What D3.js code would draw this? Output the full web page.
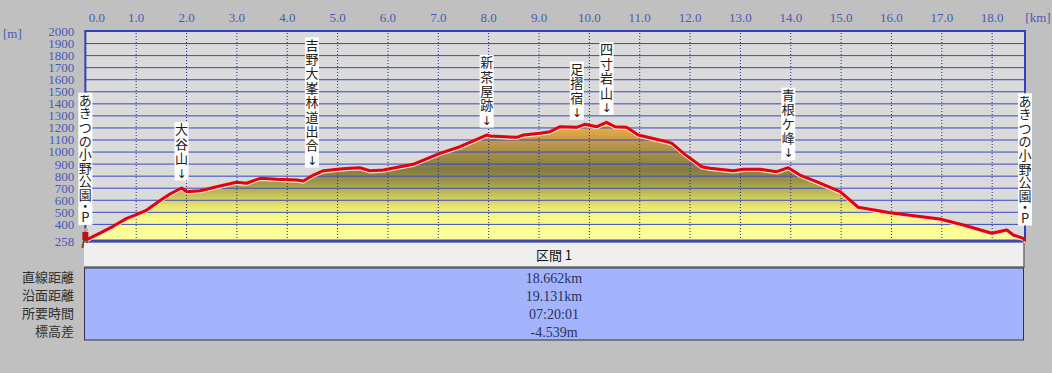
<!DOCTYPE html>
<html>
<head>
<meta charset="utf-8">
<script src="https://cdn.jsdelivr.net/npm/d3@7"></script>
<style>
  body { margin: 0; background: #c0c0c0; }
  svg { display: block; }
</style>
</head>
<body>
<div id="chart"></div>
<script>
var width = 1052,
  height = 373;

// profile: distance [km] and elevation [m]
var dist = [0, 0.29, 0.56, 0.82, 1.0, 1.22, 1.45, 1.68, 1.91, 2.01, 2.28, 2.61, 3.0, 3.2, 3.47,
  3.8, 4.2, 4.33, 4.53, 4.73, 5.06, 5.25, 5.45, 5.65, 5.92, 6.25, 6.51, 7.04, 7.44, 7.97,
  8.04, 8.57, 8.7, 9.03, 9.23, 9.43, 9.76, 9.92, 10.16, 10.35, 10.52, 10.75, 10.98, 11.55, 11.65,
  11.88, 12.24, 12.41, 12.87, 13.07, 13.4, 13.73, 13.96, 14.19, 14.52, 14.99, 15.35, 15.98, 16.97, 17.44,
  18.0, 18.3, 18.43, 18.63, 18.662];
var elev = [263, 324, 382, 446, 474, 515, 584, 648, 698, 667, 675, 708, 745, 737, 778,
  770, 764, 756, 805, 841, 855, 862, 866, 841, 847, 874, 894, 985, 1040, 1137,
  1129, 1118, 1137, 1151, 1165, 1206, 1201, 1226, 1206, 1242, 1206, 1201, 1137, 1082, 1068,
  985, 874, 861, 841, 853, 853, 833, 866, 805, 750, 667, 538, 493, 441, 391,
  322, 349, 308, 280, 258];

// waypoints
var pointNames = ["あきつの小野公園・P", "大谷山", "吉野大峯林道出合", "新茶屋跡", "足摺宿", "四寸岩山", "青根ケ峰", "あきつの小野公園・P"];
var pointKm = [0, 1.91, 4.5, 7.97, 9.76, 10.35, 13.96, 18.662];

var xTicks = d3.range(0, 19);
var yTicks = [258, 400, 500, 600, 700, 800, 900, 1000, 1100, 1200, 1300, 1400, 1500, 1600, 1700, 1800, 1900, 2000];

// summary table
var sectionName = "区間 1";
var rowNames = ["直線距離", "沿面距離", "所要時間", "標高差"];
var rowValues = ["18.662km", "19.131km", "07:20:01", "-4.539m"];

var pLeft = 85.35, pRight = 1025, pTop = 31, pBottom = 241;

var x = d3.scaleLinear().domain([0, 18.662]).range([pLeft, pRight]);
var y = d3.scaleLinear().domain([258, 2000]).range([pBottom, pTop]);

var svg = d3.select("#chart")
  .append("svg")
  .attr("width", width)
  .attr("height", height);

svg.append("rect")
  .attr("width", width)
  .attr("height", height)
  .attr("fill", "#c0c0c0");

// plot background
svg.append("rect")
  .attr("x", pLeft)
  .attr("y", pTop)
  .attr("width", pRight - pLeft)
  .attr("height", pBottom - pTop)
  .attr("fill", "#dadada");

// fill gradient, tied to elevation
var defs = svg.append("defs");
var grad = defs.append("linearGradient")
  .attr("id", "fillGrad")
  .attr("gradientUnits", "userSpaceOnUse")
  .attr("x1", 0).attr("x2", 0)
  .attr("y1", y(1250)).attr("y2", y(258));
var stops = [
  [1250, "#f4b448"], [1150, "#d8a448"], [1050, "#b8944a"], [950, "#9a8a48"],
  [850, "#847c44"], [750, "#9c9648"], [650, "#c2be58"], [550, "#e6e46e"],
  [450, "#fafa88"], [258, "#ffffa0"]
];
stops.forEach(function (s) {
  grad.append("stop")
    .attr("offset", (y(s[0]) - y(1250)) / (y(258) - y(1250)))
    .attr("stop-color", s[1]);
});

var profile = dist.map(function (d, i) { return [d, elev[i]]; });

var area = d3.area()
  .x(function (d) { return x(d[0]); })
  .y0(pBottom)
  .y1(function (d) { return y(d[1]); });

var line = d3.line()
  .x(function (d) { return x(d[0]); })
  .y(function (d) { return y(d[1]); });

svg.append("path")
  .datum(profile)
  .attr("d", area)
  .attr("fill", "url(#fillGrad)");

// horizontal grid
svg.append("g")
  .attr("transform", "translate(" + pLeft + ",0)")
  .call(d3.axisLeft(y).tickValues(d3.range(400, 2001, 100)).tickSize(-(pRight - pLeft)).tickFormat(""))
  .call(function (g) {
    g.select(".domain").remove();
    g.selectAll("line").attr("stroke", "#3a48c0").attr("stroke-width", 1);
  });

// vertical dotted grid
svg.append("g")
  .attr("transform", "translate(0," + pBottom + ")")
  .call(d3.axisBottom(x).tickValues(d3.range(1, 19)).tickSize(-(pBottom - pTop)).tickFormat(""))
  .call(function (g) {
    g.select(".domain").remove();
    g.selectAll("line").attr("stroke", "#1a2a80").attr("stroke-dasharray", "1,2");
  });

// frame
svg.append("line").attr("x1", pLeft - 1).attr("x2", pRight + 1).attr("y1", pTop).attr("y2", pTop)
  .attr("stroke", "#3040c0").attr("stroke-width", 2);
svg.append("line").attr("x1", pLeft).attr("x2", pLeft).attr("y1", pTop).attr("y2", pBottom)
  .attr("stroke", "#3040c0").attr("stroke-width", 2);
svg.append("line").attr("x1", pRight).attr("x2", pRight).attr("y1", pTop).attr("y2", pBottom)
  .attr("stroke", "#3040c0").attr("stroke-width", 2);
svg.append("line").attr("x1", pLeft - 1).attr("x2", pRight + 1).attr("y1", pBottom).attr("y2", pBottom)
  .attr("stroke", "#4048b8").attr("stroke-width", 3);

// profile line
svg.append("path")
  .datum(profile)
  .attr("d", line)
  .attr("transform", "translate(0,2)")
  .attr("fill", "none")
  .attr("stroke", "#fbe2c8")
  .attr("stroke-width", 1.5);

svg.append("path")
  .datum(profile)
  .attr("d", line)
  .attr("fill", "none")
  .attr("stroke", "#e4000c")
  .attr("stroke-width", 3)
  .attr("stroke-linejoin", "round");

// axes labels
var tickFont = "'Liberation Serif', 'DejaVu Serif', serif";

svg.append("g")
  .attr("transform", "translate(0,22)")
  .call(d3.axisTop(x).tickValues(xTicks).tickSize(0).tickPadding(0).tickFormat(d3.format(".1f")))
  .call(function (g) {
    g.select(".domain").remove();
    g.selectAll("text")
      .attr("fill", "#4a5ab4")
      .style("font-family", tickFont)
      .style("font-size", "13px")
      .attr("text-anchor", function (d) { return d === 0 ? "start" : "middle"; })
      .attr("dx", function (d) { return d === 0 ? 3 : 0; });
  });

svg.append("g")
  .attr("transform", "translate(" + (pLeft - 11) + ",0)")
  .call(d3.axisLeft(y).tickValues(yTicks).tickSize(0).tickPadding(0).tickFormat(d3.format("d")))
  .call(function (g) {
    g.select(".domain").remove();
    g.selectAll("text")
      .attr("fill", "#4a5ab4")
      .attr("dy", "0.34em")
      .style("font-family", tickFont)
      .style("font-size", "13px");
  });

svg.append("text")
  .attr("x", 1038).attr("y", 22)
  .attr("text-anchor", "middle")
  .attr("fill", "#4a5ab4")
  .style("font-family", tickFont)
  .style("font-size", "13px")
  .text("[km]");

svg.append("text")
  .attr("x", 3).attr("y", 38)
  .attr("fill", "#4a5ab4")
  .style("font-family", tickFont)
  .style("font-size", "13px")
  .text("[m]");

// waypoint labels (vertical text, one tspan per character)
var labelFont = "'Noto Sans CJK JP', sans-serif";

pointNames.forEach(function (name, i) {
  var km = pointKm[i];
  var ex = d3.bisectLeft(dist, km);
  var e = elev[Math.min(ex, elev.length - 1)];
  var cx = x(km);
  var isEnd = name.indexOf("・") >= 0;
  var chars = isEnd ? name.split("") : (name + "↓").split("");
  var step = isEnd ? 13.6 : 14.4;
  var lastY = isEnd ? y(e) - 23 : y(e) - 15;
  var ys = [];
  var cy = lastY;
  for (var k = chars.length - 1; k >= 0; k--) {
    ys[k] = cy;
    cy -= (chars[k] === "・" || (k > 0 && chars[k - 1] === "・")) ? 11 : step;
  }
  var g = svg.append("g");
  g.append("rect")
    .attr("x", cx - 7)
    .attr("y", ys[0] - 7.5)
    .attr("width", 14)
    .attr("height", lastY - ys[0] + 15)
    .attr("fill", "#ffffff");
  g.append("text")
    .attr("text-anchor", "middle")
    .attr("fill", "#202020")
    .style("font-family", labelFont)
    .style("font-size", "13px")
    .selectAll("tspan")
    .data(chars)
    .enter()
    .append("tspan")
    .attr("x", cx)
    .attr("y", function (d, k) { return ys[k] + 4.7; })
    .style("font-family", function (d) { return d === "↓" ? "'DejaVu Sans', sans-serif" : null; })
    .style("font-size", function (d) { return d === "↓" ? "12px" : null; })
    .text(function (d) { return d; });
});

// hiker icon at start
var hk = svg.append("g").attr("transform", "translate(" + x(0) + "," + pBottom + ")");
hk.append("path").attr("d", "M-1,-2 L-3,7 M1,-2 L3,7").attr("stroke", "#6a5030").attr("stroke-width", 2);
hk.append("rect").attr("x", -3).attr("y", -9).attr("width", 6).attr("height", 8).attr("fill", "#b01818");
hk.append("circle").attr("cx", 0.5).attr("cy", -11).attr("r", 2).attr("fill", "#d8a080");

// summary table
var tLeft = 84, tRight = 1024;
svg.append("rect")
  .attr("x", tLeft).attr("y", 243)
  .attr("width", tRight - tLeft).attr("height", 24)
  .attr("fill", "#efefef");
svg.append("path")
  .attr("d", "M" + tLeft + ",267 H" + tRight + " V243")
  .attr("fill", "none").attr("stroke", "#707070").attr("stroke-width", 1.5);
svg.append("text")
  .attr("x", (tLeft + tRight) / 2).attr("y", 255)
  .attr("dy", "0.36em")
  .attr("text-anchor", "middle")
  .attr("fill", "#101010")
  .style("font-family", labelFont)
  .style("font-size", "13px")
  .text(sectionName);

svg.append("rect")
  .attr("x", tLeft + 0.5).attr("y", 268)
  .attr("width", tRight - tLeft - 1).attr("height", 72)
  .attr("fill", "#a4b4fc")
  .attr("stroke", "#303040")
  .attr("stroke-width", 1);

var rowY = d3.scalePoint().domain(rowNames).range([277.5, 331.5]);

svg.selectAll("text.rowname")
  .data(rowNames)
  .enter()
  .append("text")
  .attr("class", "rowname")
  .attr("x", 74)
  .attr("y", function (d) { return rowY(d); })
  .attr("dy", "0.36em")
  .attr("text-anchor", "end")
  .attr("fill", "#303030")
  .style("font-family", labelFont)
  .style("font-size", "13px")
  .text(function (d) { return d; });

svg.selectAll("text.rowvalue")
  .data(rowValues)
  .enter()
  .append("text")
  .attr("class", "rowvalue")
  .attr("x", (tLeft + tRight) / 2)
  .attr("y", function (d, i) { return rowY(rowNames[i]); })
  .attr("dy", "0.36em")
  .attr("text-anchor", "middle")
  .attr("fill", "#28305c")
  .style("font-family", tickFont)
  .style("font-size", "14px")
  .text(function (d) { return d; });
</script>
</body>
</html>
